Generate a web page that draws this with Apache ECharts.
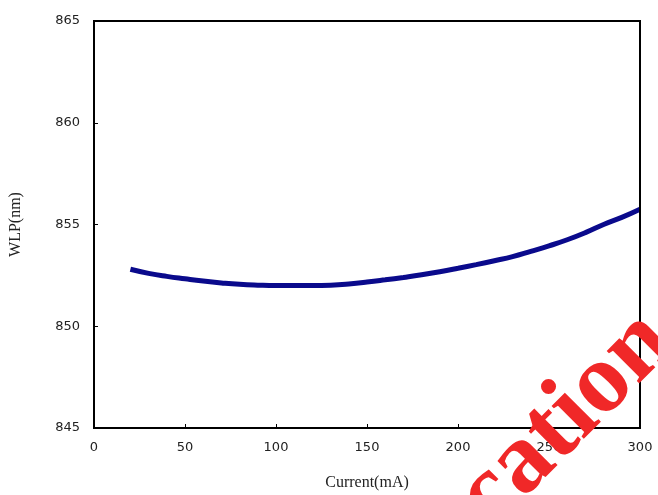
<!DOCTYPE html>
<html>
<head>
<meta charset="utf-8">
<script src="https://cdn.jsdelivr.net/npm/echarts@6/dist/echarts.min.js"></script>
<style>
html,body{margin:0;padding:0;background:#fff;}
#chart{width:658px;height:495px;}
</style>
</head>
<body>
<div id="chart"></div>
<script>
const currentMA = [20,30,40,50,60,70,80,90,100,110,120,130,140,150,160,170,180,190,200,210,220,230,240,250,260,270,280,290,300];
const wlpNm = [852.8,852.6,852.45,852.33,852.22,852.13,852.06,852.02,852.0,852.0,852.0,852.02,852.08,852.17,852.28,852.4,852.53,852.68,852.85,853.03,853.22,853.42,853.68,853.95,854.25,854.6,855.0,855.35,855.75];
const xTicks = [0,50,100,150,200,250,300];
const yTicks = [845,850,855,860,865];
const xTitle = 'Current(mA)';
const yTitle = 'WLP(nm)';
const watermark = 'cation';

const chart = echarts.init(document.getElementById('chart'));
chart.setOption({
  animation: false,
  backgroundColor: '#fff',
  grid: {left: 94, right: 18, top: 21, bottom: 67, show: false, containLabel: false, outerBoundsMode: 'none'},
  xAxis: {
    type: 'value', min: xTicks[0], max: xTicks[xTicks.length-1], interval: 50,
    axisLine: {show: true, onZero: false, lineStyle: {color: '#000', width: 2}},
    axisTick: {show: true, inside: true, length: 4, lineStyle: {color: '#000', width: 1}},
    splitLine: {show: false},
    axisLabel: {color: '#222', fontFamily: 'DejaVu Sans', fontSize: 13, margin: 13},
    name: xTitle, nameLocation: 'middle', nameGap: 47,
    nameTextStyle: {color: '#222', fontFamily: 'Liberation Serif', fontSize: 16}
  },
  yAxis: {
    type: 'value', min: yTicks[0], max: yTicks[yTicks.length-1], interval: 5,
    axisLine: {show: true, onZero: false, lineStyle: {color: '#000', width: 2}},
    axisTick: {show: true, inside: true, length: 4, lineStyle: {color: '#000', width: 1}},
    splitLine: {show: false},
    axisLabel: {color: '#222', fontFamily: 'DejaVu Sans', fontSize: 13, margin: 14},
    name: yTitle, nameLocation: 'middle', nameGap: 70, nameRotate: 90,
    nameTextStyle: {color: '#222', fontFamily: 'Liberation Serif', fontSize: 16}
  },
  graphic: [
    {type: 'rect', shape: {x: 94, y: 21, width: 546, height: 407}, style: {fill: 'none', stroke: '#000', lineWidth: 2}, z: 5, silent: true},
    {type: 'text', x: 566, y: 420, rotation: 45*Math.PI/180, z: 100,
     style: {text: watermark, font: 'bold 100px "Liberation Serif"', fill: '#f02828', align: 'center', verticalAlign: 'middle', textAlign: 'center', textVerticalAlign: 'middle'}}
  ],
  series: [{
    type: 'line', data: currentMA.map((x,i)=>[x, wlpNm[i]]), smooth: true, showSymbol: false,
    lineStyle: {color: '#0a0a8c', width: 5}, z: 3
  }]
});
</script>
</body>
</html>
